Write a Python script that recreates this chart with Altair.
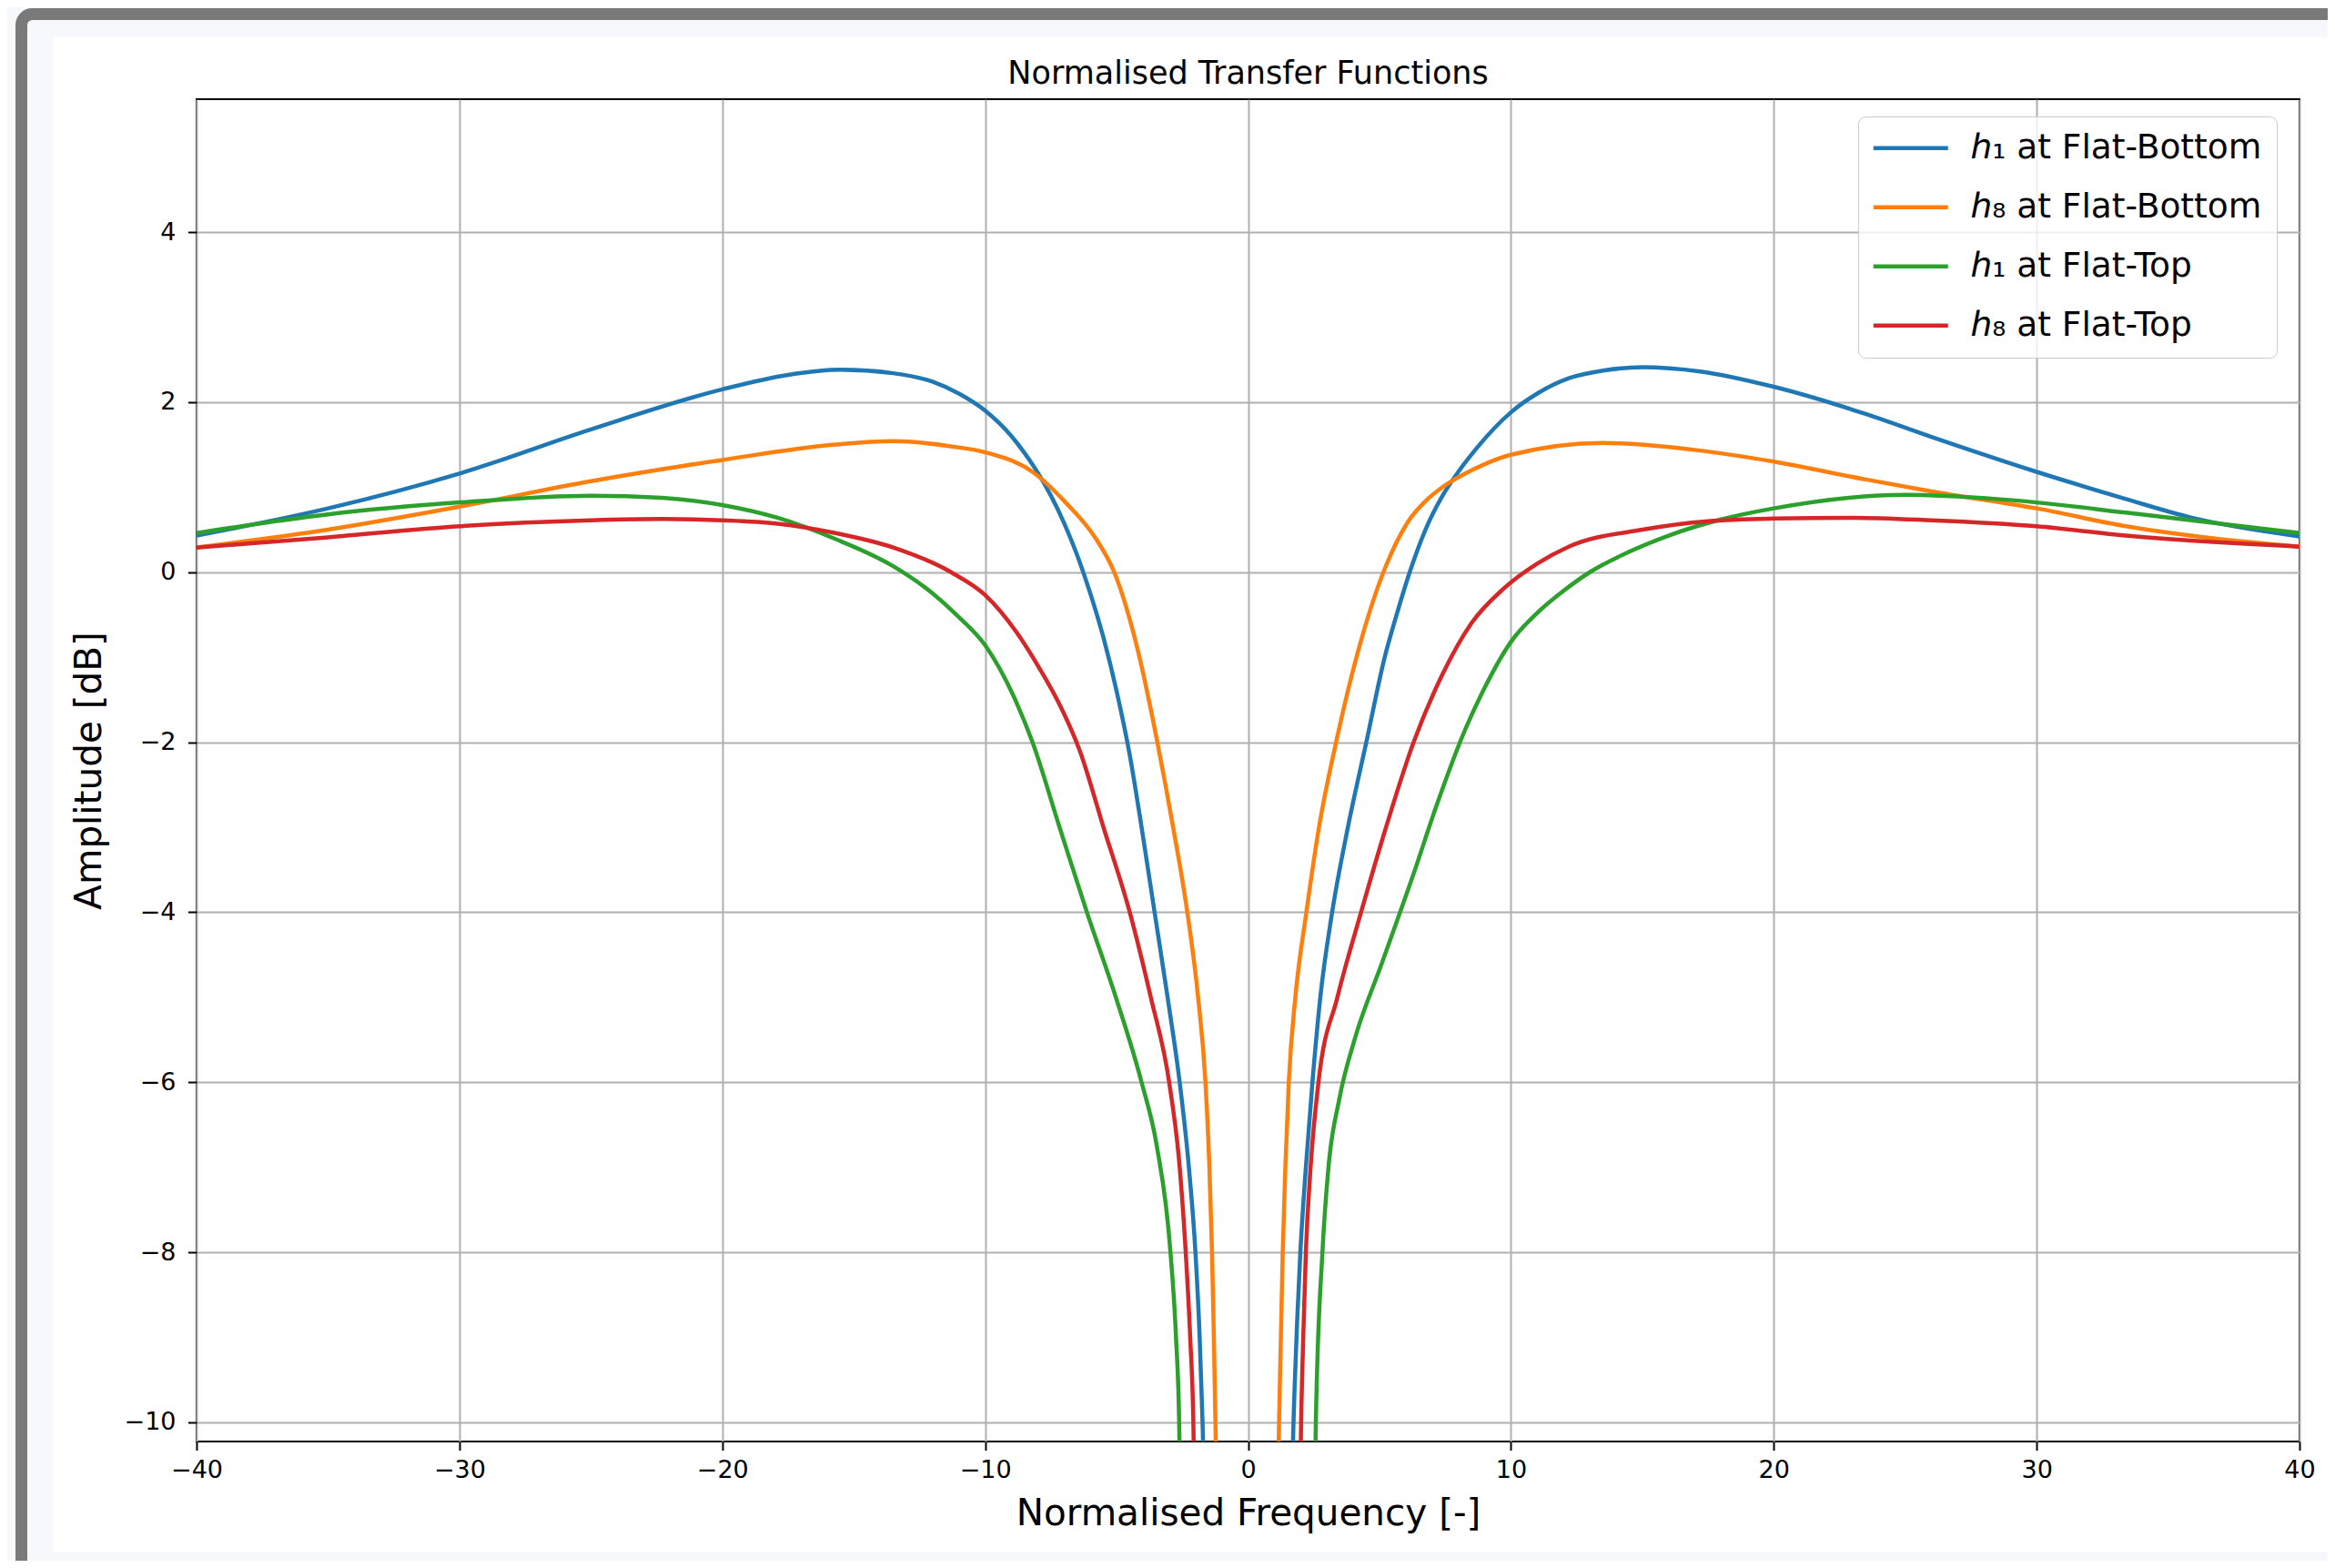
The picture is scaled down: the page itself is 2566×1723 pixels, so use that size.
import altair as alt
import pandas as pd

# ---------------- data ----------------
SERIES = ["ℎ₁ at Flat-Bottom", "ℎ₈ at Flat-Bottom", "ℎ₁ at Flat-Top", "ℎ₈ at Flat-Top"]
COLORS = ["#1f77b4", "#ff7f0e", "#2ca02c", "#d62728"]

h1_fb_freq = [-40, -35, -30, -25, -20, -17.5, -15.5, -13.5, -12, -11, -10, -9, -8.5, -8, -7.5, -7,
              -6.5, -6, -5.5, -5, -4.5, -4.1, -3.58, -3.06, -2.6, -2.25, -2.0, -1.84, -1.73, -1.5,
              1.5, 1.73, 1.99, 2.2, 2.45, 2.75, 3.2, 3.8, 4.5, 5.2, 5.7, 6.15, 6.75, 7.4, 8.0,
              8.7, 10, 11, 12.2, 13.5, 15, 17.2, 20, 23.5, 26, 30, 33.4, 35.9, 40]
h1_fb_amp = [0.43, 0.75, 1.16, 1.68, 2.15, 2.32, 2.38, 2.34, 2.24, 2.1, 1.9, 1.6, 1.4, 1.17, 0.9,
             0.58, 0.2, -0.25, -0.77, -1.4, -2.15, -2.9, -3.95, -5.0, -6.0, -7.0, -8.0, -9.0,
             -10.0, -13.0,
             -13.0, -10.0, -8.0, -7.0, -6.0, -5.0, -4.0, -3.0, -2.0, -1.0, -0.45, 0.0, 0.5,
             0.9, 1.18, 1.46, 1.88, 2.1, 2.28, 2.37, 2.41, 2.36, 2.18, 1.86, 1.59, 1.18, 0.86,
             0.64, 0.42]

h8_fb_freq = [-40, -35, -30, -25, -20, -15.7, -13.5, -11.3, -10, -8.2, -6.94, -5.78, -5.09, -4.16,
              -3.45, -2.85, -2.31, -1.9, -1.62, -1.47, -1.37, -1.3, -1.24, -1.1,
              1.05, 1.18, 1.25, 1.32, 1.42, 1.55, 1.8, 2.22, 2.7, 3.35, 4.16, 5.15, 5.6, 6.1,
              6.7, 7.4, 8.2, 9, 10, 13.5, 17.2, 20, 23.5, 26, 30, 33.4, 40]
h8_fb_amp = [0.29, 0.5, 0.77, 1.07, 1.32, 1.5, 1.54, 1.48, 1.41, 1.18, 0.82, 0.39, 0.0, -0.96,
             -2.0, -3.0, -4.0, -5.0, -6.0, -7.0, -8.0, -9.0, -10.0, -13.0,
             -13.0, -10.0, -9.0, -8.0, -7.0, -6.0, -5.0, -4.0, -3.0, -2.0, -0.96, 0.0, 0.32,
             0.6, 0.82, 1.0, 1.15, 1.27, 1.38, 1.52, 1.43, 1.30, 1.09, 0.95, 0.75, 0.54, 0.3]

h1_ft_freq = [-40, -35, -30, -25, -22.3, -20, -17.9, -15.7, -13.5, -12, -11.1, -10, -8.8, -8.2,
              -7.17, -6.13, -5.03, -4.05, -3.47, -2.95, -2.74, -2.62, -2.5,
              2.45, 2.58, 2.83, 3.06, 3.47, 4.05, 5.09, 6.24, 7.2, 8.25, 9, 10, 11, 12, 13,
              14.5, 16, 18, 20, 25, 28.5, 30, 33.4, 40]
h1_ft_amp = [0.46, 0.68, 0.82, 0.9, 0.875, 0.79, 0.64, 0.39, 0.07, -0.25, -0.5, -0.86, -1.54, -2.0,
             -3.0, -4.0, -5.0, -6.0, -6.75, -8.0, -9.0, -10.0, -13.0,
             -13.0, -10.0, -8.0, -7.0, -6.2, -5.5, -4.6, -3.6, -2.72, -1.86, -1.36, -0.82,
             -0.48, -0.22, 0.0, 0.24, 0.43, 0.62, 0.75, 0.91, 0.86, 0.82, 0.7, 0.46]

h8_ft_freq = [-40, -35, -30, -25, -22.3, -20, -17.9, -15.7, -13.5, -11.3, -10, -8.8, -7.9, -7.1,
              -6.4, -5.5, -4.5, -3.7, -3.0, -2.6, -2.37, -2.2, -2.08, -1.95,
              1.9, 2.02, 2.1, 2.2, 2.38, 2.68, 3.4, 4.3, 5.25, 6.3, 7.4, 8.5, 9.7, 11, 12.2,
              15, 17.5, 20, 23, 26, 30, 33.4, 40]
h8_ft_amp = [0.29, 0.41, 0.54, 0.61, 0.625, 0.61, 0.57, 0.46, 0.29, 0.0, -0.27, -0.71, -1.15, -1.6,
             -2.1, -3.0, -4.0, -5.0, -6.0, -7.0, -8.0, -9.0, -10.0, -13.0,
             -13.0, -10.0, -9.0, -8.0, -7.0, -6.0, -5.0, -4.0, -3.0, -2.0, -1.2, -0.6, -0.2,
             0.1, 0.3, 0.5, 0.6, 0.63, 0.64, 0.61, 0.54, 0.43, 0.3]

X_TICKS = [-40, -30, -20, -10, 0, 10, 20, 30, 40]
Y_TICKS = [-10, -8, -6, -4, -2, 0, 2, 4]

rows = []
for name, fs, vs in zip(SERIES,
                        [h1_fb_freq, h8_fb_freq, h1_ft_freq, h8_ft_freq],
                        [h1_fb_amp, h8_fb_amp, h1_ft_amp, h8_ft_amp]):
    for f, v in zip(fs, vs):
        rows.append({"series": name, "freq": f, "amp": v})
df = pd.DataFrame(rows)

# ---------------- layout ----------------
W, H = 2311, 1475
PL, PT, PR, PB = 208, 101, 31, 131
FONT = "DejaVu Sans"
LIGHT = "#f6f8fb"
GRAY = "#7a7a7a"

deco = pd.DataFrame({"k": [0]})

bg_left = alt.Chart(deco).mark_rect(color=LIGHT).encode(
    x=alt.value(-PL), x2=alt.value(-158), y=alt.value(-PT), y2=alt.value(H + PB))
bg_top = alt.Chart(deco).mark_rect(color=LIGHT).encode(
    x=alt.value(-PL), x2=alt.value(W + PR), y=alt.value(-PT), y2=alt.value(-68))
bg_bottom = alt.Chart(deco).mark_rect(color=LIGHT).encode(
    x=alt.value(-PL), x2=alt.value(W + PR), y=alt.value(1596), y2=alt.value(H + PB))
frame = alt.Chart(deco).mark_rect(filled=False, stroke=GRAY, strokeWidth=13, cornerRadius=12).encode(
    x=alt.value(-192.5), x2=alt.value(W + PR + 60), y=alt.value(-93.5), y2=alt.value(H + PB + 60))

lines = alt.Chart(df).mark_line(clip=True, strokeWidth=4.5, interpolate="monotone").encode(
    x=alt.X("freq:Q",
            scale=alt.Scale(domain=[-40, 40], nice=False, zero=False),
            axis=alt.Axis(values=X_TICKS, title="Normalised Frequency [-]", labelFlush=False,
                          labelPadding=9, titleX=W / 2, titleY=91,
                          titleBaseline="alphabetic", titleAlign="center")),
    y=alt.Y("amp:Q",
            scale=alt.Scale(domain=[-10.225, 5.563], nice=False, zero=False),
            axis=alt.Axis(values=Y_TICKS, title="Amplitude [dB]", labelFlush=False,
                          labelPadding=13.5, titleX=-118, titleY=H / 2, titleAngle=270,
                          titleBaseline="middle", titleAlign="center")),
    color=alt.Color("series:N",
                    scale=alt.Scale(domain=SERIES, range=COLORS),
                    legend=alt.Legend(title=None, orient="none", legendX=1826, legendY=19,
                                      direction="vertical", symbolType="M-1,0H15.4",
                                      symbolSize=100, symbolStrokeWidth=4.5, symbolOffset=-13,
                                      labelFont=FONT, labelFontSize=37.5, labelColor="black",
                                      labelOffset=83, labelLimit=900, padding=16,
                                      rowPadding=26, fillColor="rgba(255,255,255,0.8)",
                                      strokeColor="#cccccc", cornerRadius=8)),
)

chart = alt.layer(bg_left, bg_top, bg_bottom, frame, lines).properties(
    width=W, height=H,
    title=alt.TitleParams("Normalised Transfer Functions", font=FONT, fontSize=35,
                          fontWeight="normal", color="black", anchor="middle",
                          frame="group", offset=0, dy=90.5),
    padding={"left": PL, "top": PT, "right": PR, "bottom": PB},
    autosize=alt.AutoSizeParams(type="none"),
    background="white",
).configure_view(
    stroke="black", strokeWidth=2, fill="white"
).configure_axis(
    labelFont=FONT, labelFontSize=27, labelColor="black",
    titleFont=FONT, titleFontSize=40.5, titleColor="black", titleFontWeight="normal",
    tickColor="black", tickWidth=2, tickSize=9.5,
    grid=True, gridColor="#b0b0b0", gridWidth=2, domain=False,
)

chart.save("out.html", embed_options={"renderer": "svg", "actions": False})
